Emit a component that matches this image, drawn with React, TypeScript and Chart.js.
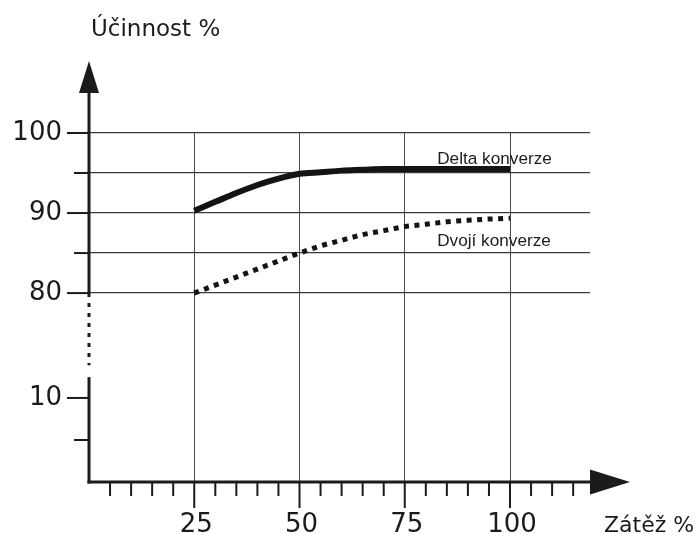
import React, { useEffect, useRef } from "react"
import { Chart, registerables } from "chart.js"

Chart.register(...registerables)

// Zátěž (load) %
const loadPct = [25, 30, 35, 40, 45, 50, 55, 60, 65, 70, 75, 80, 85, 90, 95, 100]
// Účinnost (efficiency) %
const deltaEff = [90.3, 91.4, 92.5, 93.5, 94.3, 94.9, 95.1, 95.3, 95.4, 95.5, 95.5, 95.5, 95.5, 95.5, 95.5, 95.5]
const dualEff = [80.0, 81.0, 82.0, 83.0, 84.0, 85.0, 85.9, 86.6, 87.3, 87.8, 88.3, 88.6, 88.9, 89.1, 89.25, 89.35]

const seriesNames = ["Delta konverze", "Dvojí konverze"]

const yLabelTicks = [100, 90, 80, 10]
const yMinorTicks = [95, 85, 5]
const yGridLines = [80, 85, 90, 95, 100]
const xLabelTicks = [25, 50, 75, 100]
const xMinorTicks = [5, 10, 15, 20, 30, 35, 40, 45, 55, 60, 65, 70, 80, 85, 90, 95, 105, 110, 115]

const yTitle = "Účinnost %"
const xTitle = "Zátěž %"

const INK = "#1b1b1b"

// the y axis is broken between 10 and 80
const toAxis = (v: number) => (v >= 80 ? v - 56.4 : v * 1.05)

const brokenAxes = {
    id: "brokenAxes",
    afterDraw(chart: any) {
        const { ctx } = chart
        const x = chart.scales.x
        const y = chart.scales.y
        const x0 = x.getPixelForValue(0)
        const yBase = y.getPixelForValue(0)
        const y80 = y.getPixelForValue(toAxis(80))
        const yTop = y.getPixelForValue(toAxis(100))

        ctx.save()
        ctx.strokeStyle = INK
        ctx.fillStyle = INK
        ctx.lineCap = "butt"

        const seg = (ax: number, ay: number, bx: number, by: number) => {
            ctx.beginPath()
            ctx.moveTo(ax, ay)
            ctx.lineTo(bx, by)
            ctx.stroke()
        }

        // y axis: solid top part, dotted break, solid bottom part
        ctx.lineWidth = 3
        seg(x0, yTop - 42, x0, y80 + 4)
        seg(x0, yBase + 1.5, x0, y.getPixelForValue(13.1))
        ctx.setLineDash([4, 6])
        seg(x0, y80 + 10, x0, y.getPixelForValue(14.6))
        ctx.setLineDash([])

        // y arrow
        ctx.beginPath()
        ctx.moveTo(x0, yTop - 72)
        ctx.lineTo(x0 - 10, yTop - 40)
        ctx.lineTo(x0 + 10, yTop - 40)
        ctx.closePath()
        ctx.fill()

        // x axis + arrow
        const xArrowBase = x.getPixelForValue(119)
        seg(x0 - 1.5, yBase, xArrowBase + 2, yBase)
        ctx.beginPath()
        ctx.moveTo(xArrowBase + 40, yBase)
        ctx.lineTo(xArrowBase, yBase - 12.5)
        ctx.lineTo(xArrowBase, yBase + 12.5)
        ctx.closePath()
        ctx.fill()

        // tick marks
        ctx.lineWidth = 2
        yLabelTicks.forEach((v) => {
            const py = y.getPixelForValue(toAxis(v))
            seg(x0 - 22, py, x0, py)
        })
        yMinorTicks.forEach((v) => {
            const py = y.getPixelForValue(toAxis(v))
            seg(x0 - 15, py, x0, py)
        })
        xMinorTicks.forEach((v) => {
            const px = x.getPixelForValue(v)
            seg(px, yBase, px, yBase + 14)
        })
        xLabelTicks.forEach((v) => {
            const px = x.getPixelForValue(v)
            seg(px, yBase, px, yBase + 26)
        })

        // tick labels
        ctx.font = "26px 'DejaVu Sans'"
        ctx.textAlign = "right"
        ctx.textBaseline = "middle"
        yLabelTicks.forEach((v) => {
            ctx.fillText(String(v), x0 - 27, y.getPixelForValue(toAxis(v)))
        })
        ctx.textAlign = "center"
        ctx.textBaseline = "alphabetic"
        xLabelTicks.forEach((v) => {
            ctx.fillText(String(v), x.getPixelForValue(v) + 2, yBase + 50)
        })

        // axis titles
        ctx.textAlign = "left"
        ctx.font = "23px 'DejaVu Sans'"
        ctx.fillText(yTitle, x0 + 2, yTop - 97)
        ctx.font = "22px 'DejaVu Sans'"
        ctx.fillText(xTitle, xArrowBase + 14, yBase + 50)

        // series labels
        ctx.font = "17.2px 'Liberation Sans'"
        const names = chart.data.datasets.map((d: any) => d.label)
        ctx.fillText(names[0], x.getPixelForValue(82.7), y.getPixelForValue(toAxis(96.1)))
        ctx.fillText(names[1], x.getPixelForValue(82.7), y.getPixelForValue(toAxis(85.9)))

        ctx.restore()
    },
}

const EfficiencyChart: React.FC = () => {
    const chartRef = useRef<HTMLCanvasElement>(null)
    const chartInstance = useRef<Chart | null>(null)

    useEffect(() => {
        if (!chartRef.current) return
        if (chartInstance.current) chartInstance.current.destroy()
        const ctx = chartRef.current.getContext("2d")
        if (!ctx) return

        chartInstance.current = new Chart(ctx, {
            type: "line",
            data: {
                datasets: [
                    {
                        label: seriesNames[0],
                        data: loadPct.map((v, i) => ({ x: v, y: toAxis(deltaEff[i]) })),
                        borderColor: "#141414",
                        borderWidth: 6,
                        pointRadius: 0,
                        cubicInterpolationMode: "monotone",
                        borderCapStyle: "butt",
                    },
                    {
                        label: seriesNames[1],
                        data: loadPct.map((v, i) => ({ x: v, y: toAxis(dualEff[i]) })),
                        borderColor: "#141414",
                        borderWidth: 5,
                        borderDash: [5, 5.5],
                        pointRadius: 0,
                        cubicInterpolationMode: "monotone",
                        borderCapStyle: "butt",
                    },
                ],
            },
            options: {
                animation: false,
                responsive: true,
                maintainAspectRatio: false,
                layout: { padding: { left: 89, right: 107, top: 133, bottom: 52 } },
                plugins: {
                    legend: { display: false },
                    tooltip: { enabled: false },
                },
                scales: {
                    x: {
                        type: "linear",
                        min: 0,
                        max: 119,
                        border: { display: false },
                        ticks: { display: false },
                        grid: { color: "#4a4a4a", lineWidth: 1, drawTicks: false },
                        afterBuildTicks: (scale: any) => {
                            scale.ticks = xLabelTicks.map((v) => ({ value: v }))
                        },
                    },
                    y: {
                        type: "linear",
                        min: 0,
                        max: toAxis(100),
                        border: { display: false },
                        ticks: { display: false },
                        grid: { color: "#3a3a3a", lineWidth: 1.2, drawTicks: false },
                        afterBuildTicks: (scale: any) => {
                            scale.ticks = yGridLines.map((v) => ({ value: toAxis(v) }))
                        },
                    },
                },
            },
            plugins: [brokenAxes],
        })

        return () => {
            if (chartInstance.current) {
                chartInstance.current.destroy()
                chartInstance.current = null
            }
        }
    }, [])

    return (
        <div style={{ position: "absolute", left: 0, top: 0, width: 697, height: 534, background: "#fff" }}>
            <canvas ref={chartRef} style={{ display: "block" }} />
        </div>
    )
}

export default function App() {
    return <EfficiencyChart />
}
